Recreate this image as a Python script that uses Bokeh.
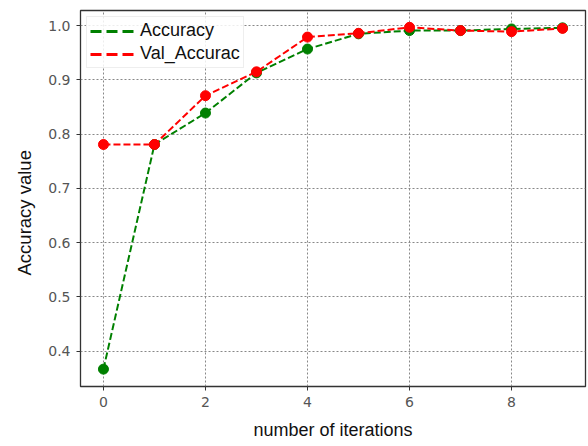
from bokeh.plotting import figure
from bokeh.models import (ColumnDataSource, Range1d, FixedTicker, PrintfTickFormatter,
                          Legend, LegendItem, Title)
from bokeh.embed import file_html
from bokeh.resources import INLINE

# Training history per iteration
iterations = [0, 1, 2, 3, 4, 5, 6, 7, 8, 9]
accuracy = [0.367, 0.781, 0.839, 0.913, 0.957, 0.985, 0.991, 0.991, 0.994, 0.996]
val_accuracy = [0.781, 0.781, 0.871, 0.915, 0.979, 0.986, 0.997, 0.991, 0.989, 0.995]
series_names = ["Accuracy", "Val_Accurac"]
x_ticks = [0, 2, 4, 6, 8]
y_ticks = [0.4, 0.5, 0.6, 0.7, 0.8, 0.9, 1.0]

src = ColumnDataSource(data=dict(x=iterations, acc=accuracy, val=val_accuracy))

p = figure(width=588, height=446, output_backend="svg", toolbar_location=None,
           x_range=Range1d(-0.45, 9.45), y_range=Range1d(0.335, 1.028),
           min_border_left=80, min_border_right=3, min_border_top=10, min_border_bottom=60)

p.background_fill_color = "white"
p.border_fill_color = "white"
p.outline_line_color = "#333333"
p.outline_line_width = 1.3

# grid
p.grid.grid_line_color = "#888888"
p.grid.grid_line_dash = "2 2"
p.grid.grid_line_width = 1
p.xgrid.ticker = FixedTicker(ticks=x_ticks)
p.ygrid.ticker = FixedTicker(ticks=y_ticks)

# axes
for ax in (p.xaxis[0], p.yaxis[0]):
    ax.axis_line_color = None
    ax.major_tick_line_color = "#333333"
    ax.major_tick_in = 0
    ax.major_tick_out = 4
    ax.minor_tick_line_color = None
    ax.major_label_text_font = "DejaVu Sans"
    ax.major_label_text_font_size = "14px"
    ax.major_label_text_color = "#555555"
    ax.major_label_standoff = 6
p.xaxis.ticker = FixedTicker(ticks=x_ticks)
p.yaxis.ticker = FixedTicker(ticks=y_ticks)
p.yaxis.formatter = PrintfTickFormatter(format="%.1f")

# x-axis title
p.xaxis.axis_label = "number of iterations"
p.xaxis.axis_label_text_font = "Liberation Sans"
p.xaxis.axis_label_text_font_size = "18px"
p.xaxis.axis_label_text_font_style = "normal"
p.xaxis.axis_label_text_color = "#111111"
p.xaxis.axis_label_standoff = 10

# data
p.line("x", "acc", source=src, line_color="green", line_width=2, line_dash="7 3")
p.scatter("x", "acc", source=src, color="green", size=10)
p.line("x", "val", source=src, line_color="red", line_width=2, line_dash="7 3")
p.scatter("x", "val", source=src, color="red", size=10)

# legend swatches (thicker dashed strokes, nothing drawn in the plot area)
nan = float("nan")
swatch = ColumnDataSource(data=dict(x=[nan], y=[nan]))
leg_acc = p.line("x", "y", source=swatch, line_color="green", line_width=3, line_dash="11 5")
leg_val = p.line("x", "y", source=swatch, line_color="red", line_width=3, line_dash="11 5")
legend = Legend(items=[LegendItem(label=series_names[0], renderers=[leg_acc], index=0),
                       LegendItem(label=series_names[1], renderers=[leg_val], index=0)],
                location="top_left", margin=6, padding=3, spacing=2,
                glyph_width=44, glyph_height=18, label_height=18, label_standoff=6,
                label_text_font="Liberation Sans", label_text_font_size="18px",
                label_text_color="#111111",
                border_line_color="#dddddd", background_fill_alpha=0.85)
p.add_layout(legend)

# y-axis title
p.add_layout(Title(text="Accuracy value", align="left", offset=111,
                   text_font="Liberation Sans", text_font_size="18.5px",
                   text_font_style="normal", text_color="#111111", standoff=21), "left")

open("out.html", "w").write(file_html(p, INLINE))
